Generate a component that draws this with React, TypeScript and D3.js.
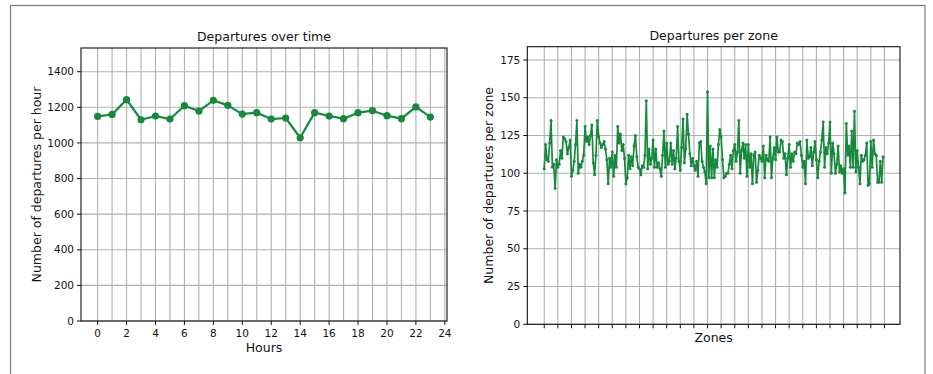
import React from 'react'
import * as d3 from 'd3'

// departures per hour (left panel)
const hours = [0, 1, 2, 3, 4, 5, 6, 7, 8, 9, 10, 11, 12, 13, 14, 15, 16, 17, 18, 19, 20, 21, 22, 23]
const hourlyDepartures = [1149, 1160, 1243, 1130, 1151, 1134, 1209, 1179, 1239, 1211, 1162, 1170,
    1134, 1140, 1029, 1170, 1151, 1136, 1170, 1181, 1153, 1136, 1202, 1145]
const hourTicks = [0, 2, 4, 6, 8, 10, 12, 14, 16, 18, 20, 22, 24]
const hourGrid = [0, 1, 2, 3, 4, 5, 6, 7, 8, 9, 10, 11, 12, 13, 14, 15, 16, 17, 18, 19, 20, 21, 22, 23, 24]
const hourlyYTicks = [0, 200, 400, 600, 800, 1000, 1200, 1400]

// departures per zone (right panel), one value per zone
const zoneDepartures = [
    103, 119, 109, 108, 120, 135, 104, 106, 90, 109,
    104, 106, 115, 110, 124, 123, 121, 113, 117, 122,
    98, 102, 108, 119, 135, 100, 106, 104, 108, 112,
    131, 121, 124, 119, 125, 132, 107, 99, 112, 135,
    124, 120, 117, 119, 121, 116, 109, 93, 110, 104,
    114, 98, 112, 104, 131, 120, 126, 115, 119, 110,
    93, 97, 112, 103, 111, 105, 118, 125, 111, 104,
    103, 99, 105, 104, 112, 148, 103, 116, 106, 110,
    122, 104, 116, 104, 107, 103, 98, 112, 128, 104,
    120, 106, 108, 120, 106, 115, 103, 110, 131, 108,
    102, 117, 136, 107, 116, 139, 126, 113, 105, 110,
    105, 102, 108, 98, 120, 121, 108, 104, 101, 93,
    154, 97, 118, 97, 116, 97, 109, 104, 119, 129,
    124, 109, 97, 98, 100, 100, 106, 112, 103, 115,
    119, 108, 114, 135, 100, 115, 120, 110, 119, 98,
    119, 104, 113, 93, 112, 114, 94, 102, 112, 110,
    108, 118, 97, 112, 109, 108, 124, 97, 110, 117,
    109, 124, 114, 114, 122, 121, 110, 113, 99, 110,
    119, 104, 113, 108, 114, 113, 120, 119, 121, 112,
    104, 108, 93, 122, 110, 111, 117, 105, 114, 121,
    109, 97, 108, 114, 122, 134, 104, 117, 113, 120,
    134, 100, 120, 113, 100, 106, 118, 101, 105, 100,
    103, 87, 133, 112, 118, 104, 128, 104, 141, 101,
    115, 104, 93, 112, 108, 109, 112, 120, 92, 93,
    121, 104, 122, 113, 112, 94, 94, 108, 94, 111,
]
const zoneTicks = [0, 10, 20, 30, 40, 50, 60, 70, 80, 90, 100, 110, 120, 130, 140, 150, 160, 170,
    180, 190, 200, 210, 220, 230, 240, 250]
const zoneYTicks = [0, 25, 50, 75, 100, 125, 150, 175]

const GREEN = '#17893d'
const GRID = '#b0b0b0'
const TEXT = '#111'
const FONT = 'DejaVu Sans, sans-serif'

type PanelProps = {
    left: number
    right: number
    top: number
    bottom: number
    xDomain: [number, number]
    yDomain: [number, number]
    xs: number[]
    ys: number[]
    xGrid: number[]
    xTicks: number[]
    showXLabels: boolean
    yTicks: number[]
    title: string
    xLabel: string
    yLabel: string
    xLabelY: number
    yLabelX: number
    lineWidth: number
    markerR: number
}

const Panel = (p: PanelProps) => {
    const x = d3.scaleLinear().domain(p.xDomain).range([p.left, p.right])
    const y = d3.scaleLinear().domain(p.yDomain).range([p.bottom, p.top])
    const line = d3.line<number>().x((d, i) => x(p.xs[i])).y(d => y(d))
    const midX = (p.left + p.right) / 2
    const midY = (p.top + p.bottom) / 2

    return (
        <g fontFamily={FONT} fill={TEXT}>
            {p.xGrid.map(t => (
                <line key={'gx' + t} x1={x(t)} x2={x(t)} y1={p.top} y2={p.bottom} stroke={GRID} strokeWidth={1.1} />
            ))}
            {p.yTicks.map(t => (
                <line key={'gy' + t} x1={p.left} x2={p.right} y1={y(t)} y2={y(t)} stroke={GRID} strokeWidth={1.1} />
            ))}

            <path d={line(p.ys) || ''} fill='none' stroke={GREEN} strokeWidth={p.lineWidth} strokeLinejoin='round' />
            {p.ys.map((v, i) => (
                <circle key={i} cx={x(p.xs[i])} cy={y(v)} r={p.markerR} fill={GREEN} />
            ))}

            <rect x={p.left} y={p.top} width={p.right - p.left} height={p.bottom - p.top}
                fill='none' stroke='#111' strokeWidth={1.1} />

            {p.xTicks.map(t => (
                <g key={'tx' + t}>
                    <line x1={x(t)} x2={x(t)} y1={p.bottom} y2={p.bottom + 4} stroke='#111' strokeWidth={1} />
                    {p.showXLabels && (
                        <text x={x(t)} y={p.bottom + 16} fontSize={10.5} textAnchor='middle'>{t}</text>
                    )}
                </g>
            ))}
            {p.yTicks.map(t => (
                <g key={'ty' + t}>
                    <line x1={p.left - 4} x2={p.left} y1={y(t)} y2={y(t)} stroke='#111' strokeWidth={1} />
                    <text x={p.left - 7} y={y(t)} dy='0.35em' fontSize={10.5} textAnchor='end'>{t}</text>
                </g>
            ))}

            <text x={midX} y={p.top - 7} fontSize={12.5} textAnchor='middle'>{p.title}</text>
            <text x={midX} y={p.xLabelY} fontSize={12.5} textAnchor='middle'>{p.xLabel}</text>
            <text transform={`translate(${p.yLabelX},${midY}) rotate(-90)`} fontSize={12.5} textAnchor='middle'
                dy='0.35em'>{p.yLabel}</text>
        </g>
    )
}

const App = () => {
    return (
        <svg width={933} height={374} style={{ position: 'absolute', left: 0, top: 0, background: '#fff' }}>
            <rect x={10.5} y={5.5} width={914.5} height={400} fill='none' stroke='#7a7a7a' strokeWidth={1.2} />

            <Panel
                left={81} right={447} top={48} bottom={321}
                xDomain={[-1.15, 24.15]} yDomain={[0, 1533]}
                xs={hours} ys={hourlyDepartures}
                xGrid={hourGrid} xTicks={hourTicks} showXLabels={true} yTicks={hourlyYTicks}
                title='Departures over time' xLabel='Hours' yLabel='Number of departures per hour'
                xLabelY={352} yLabelX={37}
                lineWidth={2.2} markerR={3.6}
            />

            <Panel
                left={527.3} right={900} top={46.7} bottom={324.3}
                xDomain={[-12.45, 261.45]} yDomain={[0, 183.8]}
                xs={zoneDepartures.map((v, i) => i)} ys={zoneDepartures}
                xGrid={zoneTicks} xTicks={zoneTicks} showXLabels={false} yTicks={zoneYTicks}
                title='Departures per zone' xLabel='Zones' yLabel='Number of departures per zone'
                xLabelY={342} yLabelX={489}
                lineWidth={1.7} markerR={1.5}
            />
        </svg>
    )
}

export default App
